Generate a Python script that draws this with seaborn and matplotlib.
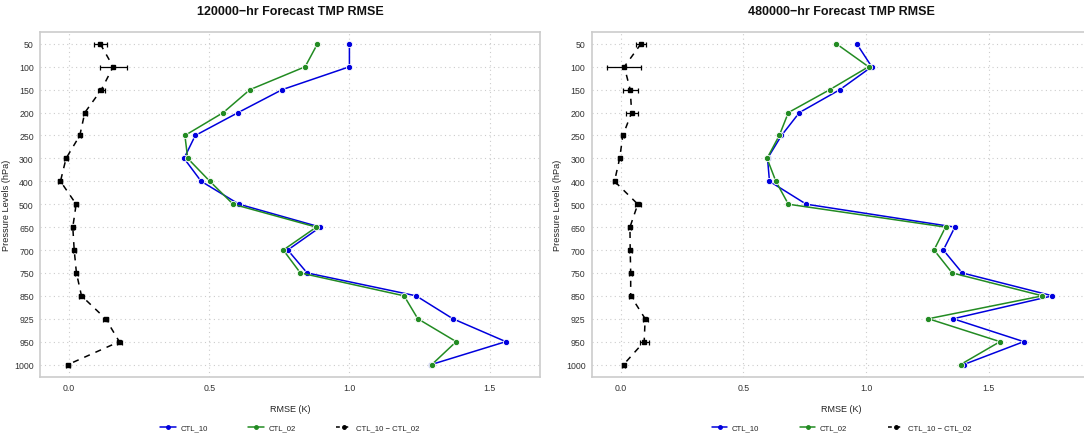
import matplotlib
matplotlib.use("Agg")
import matplotlib.pyplot as plt
import seaborn as sns
import pandas as pd
import numpy as np
from matplotlib.lines import Line2D
from matplotlib.legend_handler import HandlerLine2D

levels = [50, 100, 150, 200, 250, 300, 400, 500, 650, 700, 750, 850, 925, 950, 1000]

titles = ["120000\u2212hr Forecast TMP RMSE", "480000\u2212hr Forecast TMP RMSE"]

ctl10_a = [1.0, 1.0, 0.76, 0.603, 0.45, 0.41, 0.471, 0.606, 0.896, 0.78, 0.849, 1.238, 1.369, 1.558, 1.292]
ctl02_a = [0.886, 0.842, 0.645, 0.55, 0.413, 0.423, 0.502, 0.585, 0.882, 0.764, 0.825, 1.195, 1.244, 1.381, 1.294]
diff_a = [0.111, 0.157, 0.115, 0.056, 0.038, -0.011, -0.031, 0.025, 0.013, 0.018, 0.026, 0.044, 0.13, 0.179, -0.004]
err_a = [0.023, 0.048, 0.013, 0.008, 0.006, 0.006, 0.007, 0.006, 0.006, 0.006, 0.006, 0.008, 0.009, 0.01, 0.007]

ctl10_b = [0.962, 1.023, 0.893, 0.728, 0.655, 0.598, 0.606, 0.756, 1.362, 1.315, 1.392, 1.76, 1.355, 1.643, 1.398]
ctl02_b = [0.879, 1.01, 0.852, 0.683, 0.646, 0.596, 0.632, 0.683, 1.324, 1.277, 1.351, 1.719, 1.254, 1.546, 1.385]
diff_b = [0.082, 0.014, 0.038, 0.044, 0.008, -0.005, -0.026, 0.069, 0.037, 0.038, 0.04, 0.04, 0.099, 0.095, 0.011]
err_b = [0.02, 0.069, 0.03, 0.024, 0.006, 0.006, 0.006, 0.012, 0.006, 0.006, 0.006, 0.008, 0.01, 0.018, 0.006]

series_names = ["CTL_10", "CTL_02", "CTL_10 \u2212 CTL_02"]
colors = {"CTL_10": "#0000dd", "CTL_02": "#228b22"}


class EndMarkerHandler(HandlerLine2D):
    def get_xdata(self, legend, xdescent, ydescent, width, height, fontsize):
        xdata = np.array([-xdescent, -xdescent + width])
        return xdata, np.array([-xdescent + width])


sns.set_theme(style="white")
plt.rcParams['font.family'] = ['Liberation Sans', 'DejaVu Sans']

W, H = 1084, 439
fig = plt.figure(figsize=(W / 100, H / 100), dpi=100)

panels = [
    (ctl10_a, ctl02_a, diff_a, err_a, 40, 540, (-0.104, 1.68)),
    (ctl10_b, ctl02_b, diff_b, err_b, 591.7, 1091.7, (-0.119, 1.92)),
]
top_px, bot_px = 32.7, 377.7

for i, (c10, c02, d, e, x0, x1, xlim) in enumerate(panels):
    ax = fig.add_axes([x0 / W, 1 - bot_px / H, (x1 - x0) / W, (bot_px - top_px) / H])
    idx = np.arange(len(levels))
    df = pd.DataFrame({
        "rmse": c10 + c02,
        "idx": list(idx) + list(idx),
        "series": ["CTL_10"] * len(levels) + ["CTL_02"] * len(levels),
    })
    ax.grid(True, color="#cccccc", linestyle=(0, (1, 3)), linewidth=0.8)
    ax.set_axisbelow(True)
    sns.lineplot(data=df, x="rmse", y="idx", hue="series", palette=colors,
                 sort=False, orient="y", marker="o", markersize=4.5,
                 markeredgecolor="white", markeredgewidth=0.6, linewidth=1.1,
                 legend=False, ax=ax, zorder=3)
    ax.errorbar(d, idx, xerr=e, fmt="s", color="black", markersize=3,
                ecolor="black", elinewidth=0.9, capsize=1.8, capthick=0.9, zorder=4,
                markeredgecolor="black")
    sns.lineplot(x=d, y=idx, sort=False, orient="y", color="black",
                 linestyle=(0, (4, 4)), linewidth=1.1, ax=ax, zorder=4)
    ax.set_ylim(14.53, -0.53)
    ax.set_xlim(*xlim)
    ax.set_yticks(idx)
    ax.set_yticklabels([str(v) for v in levels])
    ax.set_xticks([0.0, 0.5, 1.0, 1.5])
    ax.set_xticklabels(["0.0", "0.5", "1.0", "1.5"])
    ax.tick_params(axis="both", labelsize=6.3, colors="#333333", length=0, pad=4.5)
    for s in ax.spines.values():
        s.set_color("#cccccc")
        s.set_linewidth(1.2)
    ax.set_xlabel("RMSE (K)", fontsize=6.5, color="#222222", labelpad=9)
    ax.set_ylabel("Pressure Levels (hPa)", fontsize=6.6, color="#222222", labelpad=2.5)
    ax.set_title(titles[i], fontsize=9, fontweight="bold", color="#111111", pad=13)

    handles = [
        Line2D([], [], color=colors["CTL_10"], marker="o", markersize=2.5, linewidth=1.1),
        Line2D([], [], color=colors["CTL_02"], marker="o", markersize=2.5, linewidth=1.1),
        Line2D([], [], color="black", marker="o", markersize=2.5, linewidth=1.1, linestyle=(0, (2.5, 3))),
    ]
    cx = ((x0 + x1) / 2) / W
    fig.legend(handles, series_names, loc="center", bbox_to_anchor=(cx, 1 - 429 / H),
               ncol=3, frameon=False, fontsize=5.6, handlelength=2.0, handletextpad=0.6,
               columnspacing=5.2, numpoints=1,
               handler_map={Line2D: EndMarkerHandler()})

fig.savefig("out.png", dpi=100)
